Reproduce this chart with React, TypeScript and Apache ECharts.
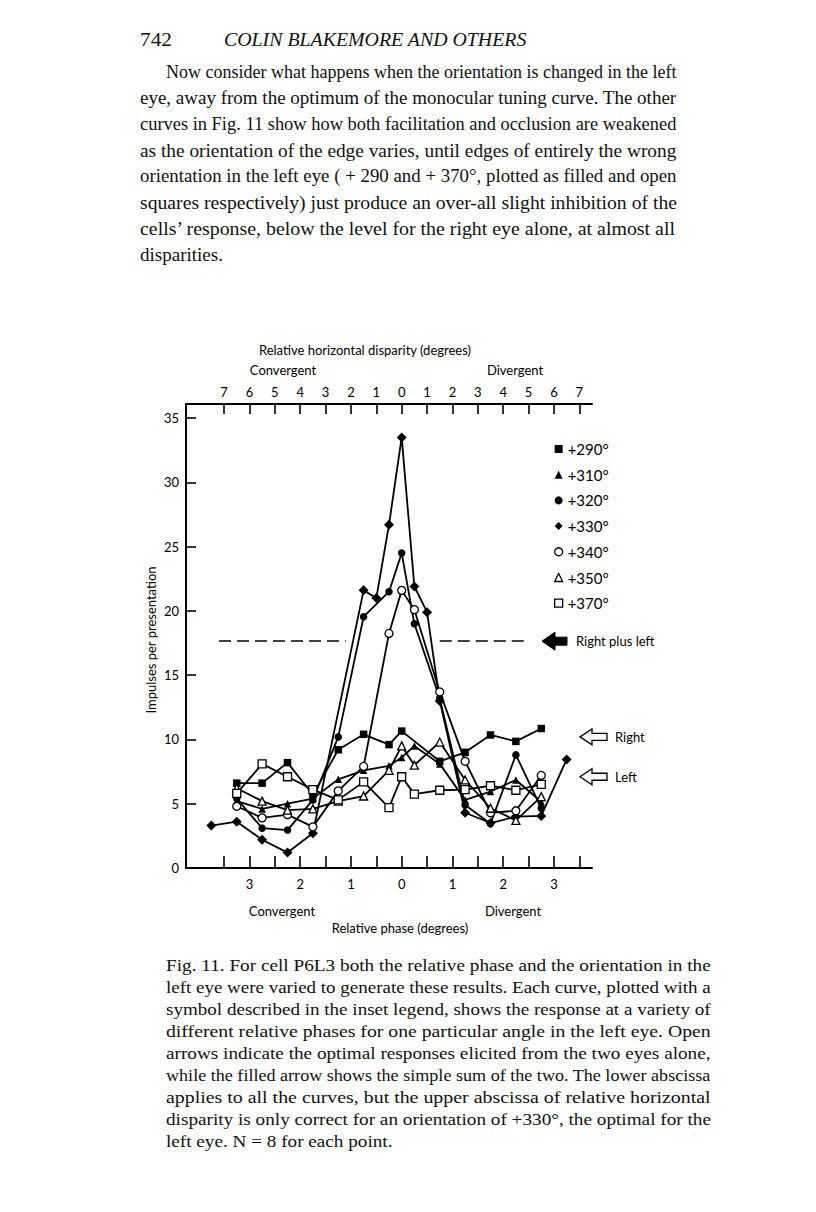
import React, { useEffect, useRef } from "react";
import * as echarts from "echarts";

// ---------- data ----------
const angleNames = ["+290°", "+310°", "+320°", "+330°", "+340°", "+350°", "+370°"];

const phasesMain = [-3.25, -2.75, -2.25, -1.75, -1.25, -0.75, -0.25, 0, 0.25, 0.75, 1.25, 1.75, 2.25, 2.75];
const phases290 = [-3.25, -2.75, -2.25, -1.75, -1.25, -0.75, -0.25, 0, 0.75, 1.25, 1.75, 2.25, 2.75];
const phases330 = [-3.75, -3.25, -2.75, -2.25, -1.75, -0.75, -0.5, -0.25, 0, 0.25, 0.5, 0.75, 1.25, 1.75, 2.25, 2.75, 3.25];

const impulses290 = [6.6, 6.6, 8.2, 5.7, 9.2, 10.4, 9.6, 10.65, 8.3, 9.0, 10.35, 9.85, 10.85];
const impulses310 = [5.2, 4.6, 5.0, 5.4, 6.9, 7.6, 7.95, 8.6, 9.5, 8.1, 5.3, 5.95, 6.85, 5.15];
const impulses320 = [5.4, 3.1, 2.95, 5.3, 10.2, 19.55, 21.5, 24.5, 19.0, 13.2, 4.9, 3.45, 8.8, 4.65];
const impulses330 = [3.3, 3.6, 2.2, 1.2, 2.7, 21.6, 21.0, 26.7, 33.5, 21.9, 19.9, 13.0, 4.3, 3.5, 4.0, 4.05, 8.45];
const impulses340 = [4.8, 3.9, 4.15, 3.2, 6.0, 7.9, 18.25, 21.6, 20.1, 13.7, 8.3, 4.3, 4.45, 7.2];
const impulses350 = [6.2, 5.2, 4.5, 4.6, 5.2, 5.6, 7.6, 9.5, 8.0, 9.8, 6.85, 4.65, 3.7, 5.55];
const impulses370 = [5.8, 8.1, 7.1, 6.1, 5.3, 6.7, 4.7, 7.1, 5.75, 6.05, 6.1, 6.4, 6.05, 6.5];

const rightPlusLeft = 17.65;
const rightAlone = 10.2;
const leftAlone = 7.1;

const phaseTicks = [-3.5, -3, -2.5, -2, -1.5, -1, -0.5, 0, 0.5, 1, 1.5, 2, 2.5, 3, 3.5];
const phaseLabels = [-3, -2, -1, 0, 1, 2, 3];
const disparityTicks = [-7, -6, -5, -4, -3, -2, -1, 0, 1, 2, 3, 4, 5, 6, 7];
const impulseTicks = [0, 5, 10, 15, 20, 25, 30, 35];

const headerPage = "742";
const headerAuthors = "COLIN BLAKEMORE AND OTHERS";
const bodyLines = [
  "Now consider what happens when the orientation is changed in the left",
  "eye, away from the optimum of the monocular tuning curve. The other",
  "curves in Fig. 11 show how both facilitation and occlusion are weakened",
  "as the orientation of the edge varies, until edges of entirely the wrong",
  "orientation in the left eye ( + 290 and + 370°, plotted as filled and open",
  "squares respectively) just produce an over-all slight inhibition of the",
  "cells’ response, below the level for the right eye alone, at almost all",
  "disparities.",
];
const captionLines = [
  "Fig. 11. For cell P6L3 both the relative phase and the orientation in the",
  "left eye were varied to generate these results. Each curve, plotted with a",
  "symbol described in the inset legend, shows the response at a variety of",
  "different relative phases for one particular angle in the left eye. Open",
  "arrows indicate the optimal responses elicited from the two eyes alone,",
  "while the filled arrow shows the simple sum of the two. The lower abscissa",
  "applies to all the curves, but the upper abscissa of relative horizontal",
  "disparity is only correct for an orientation of +330°, the optimal for the",
  "left eye. N = 8 for each point.",
];

// ---------- layout ----------
const W = 816;
const H = 1212;
const SANS = "Lato";
const SERIF = '"Liberation Serif"';

const zip = (xs: number[], ys: number[]) => xs.map((x, i) => [x, ys[i]]);

export default function App() {
  const ref = useRef<HTMLDivElement>(null);

  useEffect(() => {
    const chart = echarts.init(ref.current!, null, { renderer: "svg", width: W, height: H });

    const seriesData = [
      zip(phases290, impulses290),
      zip(phasesMain, impulses310),
      zip(phasesMain, impulses320),
      zip(phases330, impulses330),
      zip(phasesMain, impulses340),
      zip(phasesMain, impulses350),
      zip(phasesMain, impulses370),
    ];
    const sym = [
      { symbol: "rect", size: 7.5, filled: true },
      { symbol: "triangle", size: 7.5, filled: true },
      { symbol: "circle", size: 7.5, filled: true },
      { symbol: "diamond", size: 10, filled: true },
      { symbol: "circle", size: 8, filled: false },
      { symbol: "triangle", size: 8, filled: false },
      { symbol: "rect", size: 8, filled: false },
    ];
    const itemStyleOf = (f: boolean) =>
      f
        ? { color: "#000", borderColor: "#000", borderWidth: 0 }
        : { color: "#fff", borderColor: "#000", borderWidth: 1.3 };

    const series: any[] = seriesData.map((d, i) => ({
      name: angleNames[i],
      type: "line",
      data: d,
      symbol: sym[i].symbol,
      symbolSize: sym[i].size,
      showAllSymbol: true,
      lineStyle: { color: "#000", width: 1.8 },
      itemStyle: itemStyleOf(sym[i].filled),
      z: 3 + i,
    }));
    series.push({
      name: "Right plus left",
      type: "line",
      data: [],
      markLine: {
        silent: true,
        symbol: "none",
        label: { show: false },
        lineStyle: { color: "#000", width: 1.5, type: [12, 6] },
        data: [
          [{ coord: [-3.6, rightPlusLeft] }, { coord: [-1.1, rightPlusLeft] }],
          [{ coord: [0.75, rightPlusLeft] }, { coord: [2.5, rightPlusLeft] }],
        ],
      },
    });

    const axisFont = { fontFamily: SANS, fontSize: 13, color: "#000" };

    chart.setOption({
      animation: false,
      backgroundColor: "#fff",
      textStyle: { fontFamily: SANS },
      grid: { left: 186, right: W - 592, top: 404, bottom: H - 868, containLabel: false },
      xAxis: [
        {
          type: "value",
          position: "bottom",
          min: -4.25,
          max: 3.75,
          axisLine: { show: true, onZero: false, lineStyle: { color: "#000", width: 2 } },
          axisTick: {
            show: true,
            inside: true,
            length: 12,
            customValues: phaseTicks,
            lineStyle: { color: "#000", width: 1.6 },
          },
          axisLabel: {
            show: true,
            customValues: phaseLabels,
            formatter: (v: number) => String(Math.abs(v)),
            margin: 9,
            ...axisFont,
          },
          splitLine: { show: false },
        },
        {
          type: "value",
          position: "top",
          min: -8.5,
          max: 7.5,
          axisLine: { show: true, onZero: false, lineStyle: { color: "#000", width: 2 } },
          axisTick: {
            show: true,
            inside: true,
            length: 10,
            customValues: disparityTicks,
            lineStyle: { color: "#000", width: 1.6 },
          },
          axisLabel: {
            show: true,
            customValues: disparityTicks,
            formatter: (v: number) => String(Math.abs(v)),
            margin: 6,
            ...axisFont,
          },
          splitLine: { show: false },
        },
      ],
      yAxis: {
        type: "value",
        min: 0,
        max: 36.1,
        axisLine: { show: true, onZero: false, lineStyle: { color: "#000", width: 2 } },
        axisTick: {
          show: true,
          inside: true,
          length: 10,
          customValues: impulseTicks,
          lineStyle: { color: "#000", width: 1.6 },
        },
        axisLabel: { show: true, customValues: impulseTicks, margin: 7, ...axisFont },
        splitLine: { show: false },
      },
      legend: {
        orient: "vertical",
        left: 549,
        top: 436,
        itemWidth: 8,
        itemHeight: 8,
        itemGap: 9.7,
        textStyle: { fontFamily: SANS, fontSize: 15, color: "#000", lineHeight: 16 },
        data: angleNames.map((n, i) => ({
          name: n,
          icon: sym[i].symbol,
          itemStyle: itemStyleOf(sym[i].filled),
        })),
      },
      series,
    });

    // ---------- annotations and page text ----------
    const ctx = document.createElement("canvas").getContext("2d")!;
    const measure = (text: string, font: string) => {
      ctx.font = font;
      return ctx.measureText(text).width;
    };
    const textEl = (text: string, x: number, y: number, scaleX: number, font: string) => ({
      type: "text",
      x,
      y,
      scaleX,
      silent: true,
      style: { text, font, fill: "#111", textAlign: "left", textVerticalAlign: "middle" },
    });
    // justified block: every line but the last stretched to the column width,
    // the last one uses the mean stretch of the others
    const block = (lines: string[], xs: number[], right: number, y0: number, lh: number, font: string) => {
      const scales = lines.map((t, i) => (right - xs[i]) / measure(t, font));
      const body = scales.slice(0, -1);
      const mean = body.reduce((a, b) => a + b, 0) / body.length;
      return lines.map((t, i) =>
        textEl(t, xs[i], y0 + i * lh, i === lines.length - 1 ? mean : scales[i], font)
      );
    };
    const ctext = (text: string, x: number, y: number, extra: any = {}) => ({
      type: "text",
      x,
      y,
      silent: true,
      style: {
        text,
        font: `13px ${SANS}`,
        fill: "#000",
        textAlign: "center",
        textVerticalAlign: "middle",
        ...extra,
      },
    });

    const yPx = (v: number) => chart.convertToPixel({ yAxisIndex: 0 }, v) as number;
    const yRPL = yPx(rightPlusLeft);
    const yR = yPx(rightAlone);
    const yL = yPx(leftAlone);

    const filledArrow = (x0: number, y: number) => ({
      type: "polygon",
      silent: true,
      shape: {
        points: [
          [x0, y],
          [x0 + 13, y - 9],
          [x0 + 13, y - 4],
          [x0 + 25, y - 4],
          [x0 + 25, y + 4],
          [x0 + 13, y + 4],
          [x0 + 13, y + 9],
        ],
      },
      style: { fill: "#000", stroke: "#000", lineWidth: 1 },
    });
    const openArrow = (x0: number, y: number) => ({
      type: "polygon",
      silent: true,
      shape: {
        points: [
          [x0, y],
          [x0 + 12, y - 8],
          [x0 + 12, y - 3.5],
          [x0 + 27, y - 3.5],
          [x0 + 27, y + 3.5],
          [x0 + 12, y + 3.5],
          [x0 + 12, y + 8],
        ],
      },
      style: { fill: "#fff", stroke: "#000", lineWidth: 1.3 },
    });

    const graphics: any[] = [];
    // header
    const hf = `18px ${SERIF}`;
    const hfi = `italic 18px ${SERIF}`;
    graphics.push(textEl(headerPage, 140, 40, 32 / measure(headerPage, hf), hf));
    graphics.push(textEl(headerAuthors, 224, 40, 303 / measure(headerAuthors, hfi), hfi));
    // body
    graphics.push(
      ...block(bodyLines, bodyLines.map((_, i) => (i === 0 ? 166 : 140)), 677, 72, 26.15, `18px ${SERIF}`)
    );
    // caption
    graphics.push(...block(captionLines, captionLines.map(() => 166), 711, 966, 22, `16px ${SERIF}`));
    // chart texts
    graphics.push(ctext("Relative horizontal disparity (degrees)", 365, 350));
    graphics.push(ctext("Convergent", 283, 370));
    graphics.push(ctext("Divergent", 515, 370));
    graphics.push(ctext("Convergent", 282, 911));
    graphics.push(ctext("Divergent", 513, 911));
    graphics.push(ctext("Relative phase (degrees)", 400, 928));
    graphics.push({
      type: "text",
      x: 151,
      y: 640,
      rotation: Math.PI / 2,
      silent: true,
      style: {
        text: "Impulses per presentation",
        font: `13px ${SANS}`,
        fill: "#000",
        textAlign: "center",
        textVerticalAlign: "middle",
      },
    });
    // arrows
    graphics.push(filledArrow(542, yRPL));
    graphics.push(ctext("Right plus left", 576, yRPL, { textAlign: "left" }));
    graphics.push(openArrow(580, yR));
    graphics.push(ctext("Right", 615, yR, { textAlign: "left" }));
    graphics.push(openArrow(580, yL));
    graphics.push(ctext("Left", 615, yL, { textAlign: "left" }));

    chart.setOption({ graphic: graphics });

    return () => chart.dispose();
  }, []);

  return (
    <div
      ref={ref}
      style={{ position: "absolute", left: 0, top: 0, width: W, height: H, background: "#fff" }}
    />
  );
}
